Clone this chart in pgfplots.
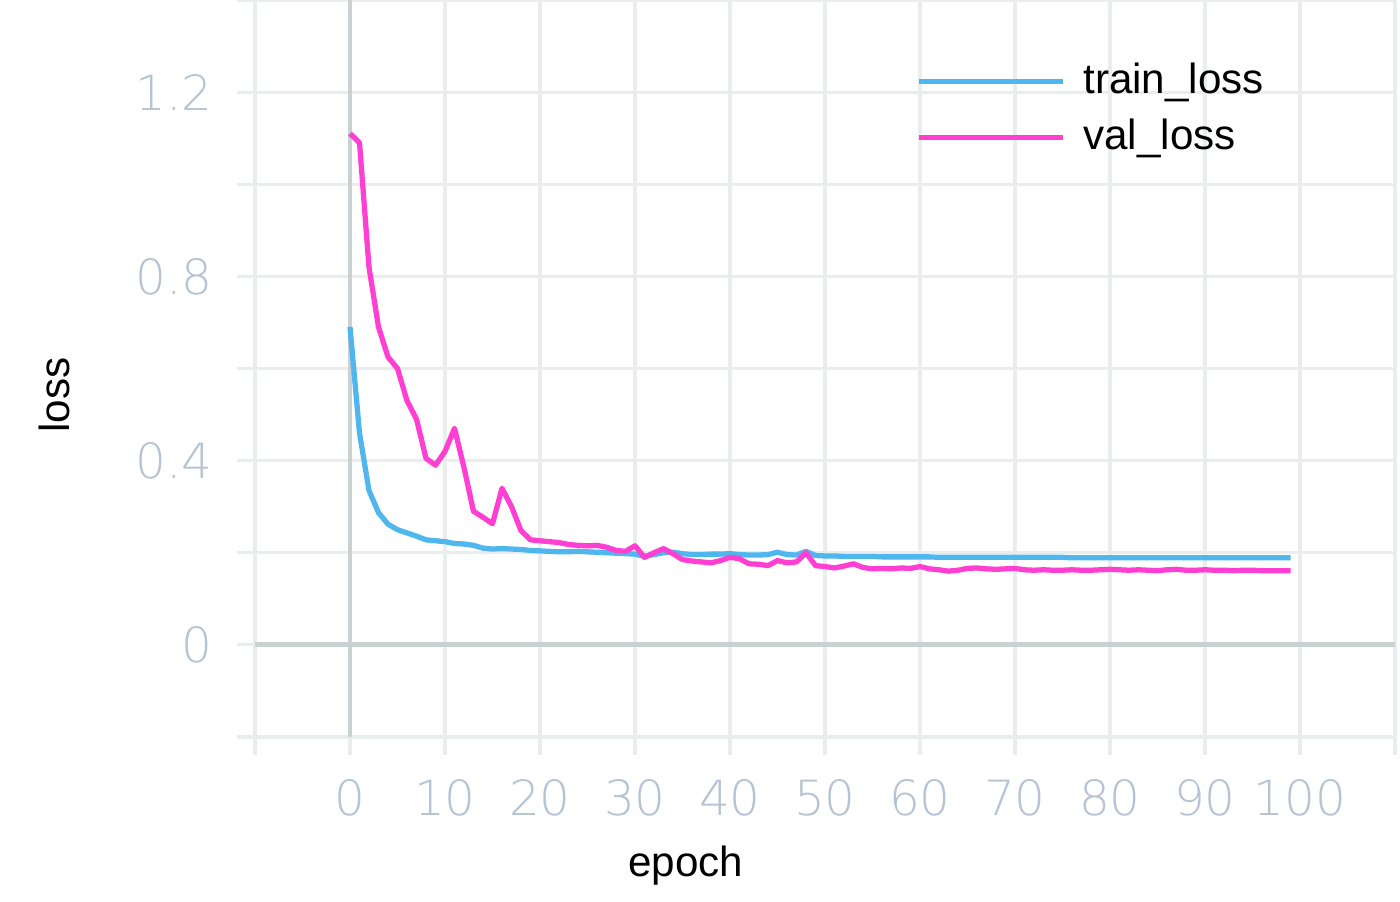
\documentclass[border=0pt]{standalone}
\usepackage{fontspec}
\setmainfont{Liberation Sans}
\newfontfamily\tickfont{DejaVu Sans ExtraLight}
\usepackage{pgfplots}
\pgfplotsset{compat=1.18}
\definecolor{trainc}{HTML}{50B6EE}
\definecolor{valc}{HTML}{FF3FD2}
\definecolor{gridc}{HTML}{EAEDED}
\definecolor{zeroc}{HTML}{C8D2D2}
\definecolor{tickc}{HTML}{B6C3D2}

\pgfplotstableread{
epoch train val
0 0.690 1.110
1 0.460 1.090
2 0.335 0.820
3 0.287 0.690
4 0.262 0.625
5 0.250 0.600
6 0.243 0.530
7 0.236 0.490
8 0.228 0.405
9 0.226 0.390
10 0.224 0.420
11 0.220 0.470
12 0.219 0.385
13 0.216 0.290
14 0.210 0.277
15 0.208 0.263
16 0.209 0.340
17 0.208 0.300
18 0.207 0.248
19 0.205 0.228
20 0.204 0.226
21 0.203 0.224
22 0.202 0.222
23 0.202 0.218
24 0.203 0.216
25 0.202 0.215
26 0.201 0.216
27 0.200 0.212
28 0.199 0.205
29 0.198 0.203
30 0.197 0.215
31 0.192 0.190
32 0.196 0.200
33 0.200 0.209
34 0.201 0.198
35 0.198 0.185
36 0.196 0.182
37 0.196 0.180
38 0.197 0.178
39 0.197 0.183
40 0.198 0.190
41 0.196 0.187
42 0.195 0.176
43 0.195 0.175
44 0.196 0.172
45 0.201 0.183
46 0.196 0.178
47 0.195 0.180
48 0.203 0.200
49 0.194 0.172
50 0.193 0.170
51 0.193 0.167
52 0.192 0.171
53 0.192 0.176
54 0.192 0.168
55 0.192 0.165
56 0.191 0.166
57 0.191 0.165
58 0.191 0.167
59 0.191 0.166
60 0.191 0.170
61 0.191 0.165
62 0.190 0.163
63 0.190 0.160
64 0.190 0.162
65 0.190 0.166
66 0.190 0.167
67 0.190 0.165
68 0.190 0.164
69 0.190 0.165
70 0.190 0.166
71 0.190 0.163
72 0.190 0.162
73 0.190 0.163
74 0.190 0.162
75 0.190 0.162
76 0.189 0.163
77 0.189 0.162
78 0.189 0.162
79 0.189 0.163
80 0.189 0.164
81 0.189 0.163
82 0.189 0.162
83 0.189 0.163
84 0.189 0.162
85 0.189 0.161
86 0.189 0.163
87 0.189 0.164
88 0.189 0.162
89 0.189 0.162
90 0.189 0.163
91 0.189 0.162
92 0.189 0.162
93 0.189 0.161
94 0.189 0.162
95 0.189 0.162
96 0.189 0.161
97 0.189 0.161
98 0.189 0.161
99 0.189 0.161
}\losstable

\begin{document}
\begin{tikzpicture}
\begin{axis}[
  scale only axis,
  width=11.4cm, height=7.37cm,
  xmin=-10, xmax=110,
  ymin=-0.2, ymax=1.4,
  axis line style={draw=none},
  xtick={0,10,...,100},
  xticklabels={0,10,20,30,40,50,60,70,80,90,100},
  minor xtick={-10,110},
  ytick={0,0.4,0.8,1.2},
  yticklabels={0,0.4,0.8,1.2},
  minor ytick={-0.2,0.2,0.6,1.0,1.4},
  grid=both,
  major grid style={draw=gridc, line width=0.9pt},
  minor grid style={draw=gridc, line width=0.9pt},
  tick pos=left,
  tick align=outside,
  major tick length=0.18cm,
  minor tick length=0.18cm,
  every tick/.style={draw=gridc, line width=0.9pt},
  ticklabel style={font=\tickfont\fontsize{13.8}{16}\selectfont, text=tickc},
  /pgf/number format/assume math mode=true,
  xticklabel style={yshift=-0.12cm},
  yticklabel style={xshift=-0.12cm},
  xlabel={epoch},
  ylabel={loss},
  label style={font=\fontsize{12}{14}\selectfont},
  xlabel style={at={(rel axis cs:0.378,0)}, anchor=base, yshift=-1.40cm},
  ylabel style={at={(rel axis cs:0,0.464)}, anchor=base, yshift=1.85cm},
  legend style={draw=none, fill=none, at={(rel axis cs:0.570,0.938)}, anchor=north west,
    font=\fontsize{12}{14}\selectfont, row sep=0cm,
    nodes={inner sep=0.1cm},
    /tikz/every odd column/.append style={column sep=0.08cm}},
  legend image code/.code={\draw[#1] (0cm,0cm) -- (1.44cm,0cm);},
  legend cell align=left,
  clip=false,
]
\draw[zeroc, line width=1.5pt] (axis cs:-10,0) -- (axis cs:110,0);
\draw[zeroc, line width=1.4pt] (axis cs:0,-0.2) -- (axis cs:0,1.4);
\addplot[trainc, line width=1.5pt, line join=round] table[x=epoch, y=train] {\losstable};
\addlegendentry{train\_loss}
\addplot[valc, line width=1.5pt, line join=round] table[x=epoch, y=val] {\losstable};
\addlegendentry{val\_loss}
\coordinate (sw) at (rel axis cs:0,0);
\coordinate (ne) at (rel axis cs:1,1);
\end{axis}
\pgfresetboundingbox
\path ([shift={(-2.55cm,-1.65cm)}]sw) rectangle ([shift={(0.05cm,0cm)}]ne);
\end{tikzpicture}
\end{document}
